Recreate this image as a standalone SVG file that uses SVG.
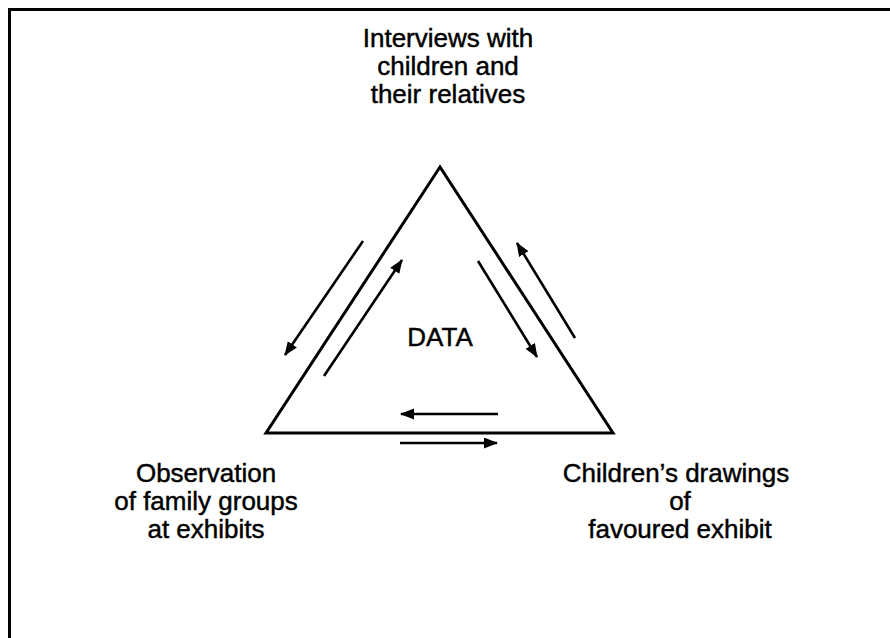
<svg xmlns="http://www.w3.org/2000/svg" width="890" height="638" viewBox="0 0 890 638">
  <style>
    .frame { fill: none; stroke: #000; stroke-width: 3; }
    .tri { fill: none; stroke: #000; stroke-width: 3; stroke-linejoin: miter; }
    .flow { fill: none; stroke: #000; stroke-width: 2.6; marker-end: url(#head); }
    .lbl { font-family: "Liberation Sans", Arial, sans-serif; font-size: 26px; fill: #000; stroke: #000; stroke-width: 0.45; text-anchor: middle; }
  </style>
  <defs>
    <marker id="head" markerUnits="userSpaceOnUse" markerWidth="16" markerHeight="12" refX="13" refY="5.5" orient="auto">
      <path d="M0,0 L14,5.5 L0,11 z" fill="#000"/>
    </marker>
  </defs>
  <rect width="890" height="638" fill="#fff"/>

  <!-- outer frame: only the top and left edges fall inside the page -->
  <path class="frame" d="M9.5,640 L9.5,9.5 L892,9.5"/>

  <g id="data">
    <path class="tri" d="M440,167 L266,433 L613,433 Z"/>
    <text class="lbl" x="440" y="346">DATA</text>
  </g>

  <g id="interviews">
    <text class="lbl" x="448" y="47">Interviews with</text>
    <text class="lbl" x="448" y="75">children and</text>
    <text class="lbl" x="448" y="103">their relatives</text>
  </g>

  <g id="observation">
    <text class="lbl" x="206" y="482">Observation</text>
    <text class="lbl" x="206" y="510">of family groups</text>
    <text class="lbl" x="206" y="538">at exhibits</text>
  </g>

  <g id="drawings">
    <text class="lbl" x="676" y="482">Children’s drawings</text>
    <text class="lbl" x="680" y="510">of</text>
    <text class="lbl" x="680" y="538">favoured exhibit</text>
  </g>

  <g id="connectors">
    <path class="flow" d="M363,241 L285,355"/>
    <path class="flow" d="M324,376 L402,260"/>
    <path class="flow" d="M478,261 L537,357"/>
    <path class="flow" d="M575,338 L517,243"/>
    <path class="flow" d="M498,414 L401,414"/>
    <path class="flow" d="M400,443 L497,443"/>
  </g>
</svg>
